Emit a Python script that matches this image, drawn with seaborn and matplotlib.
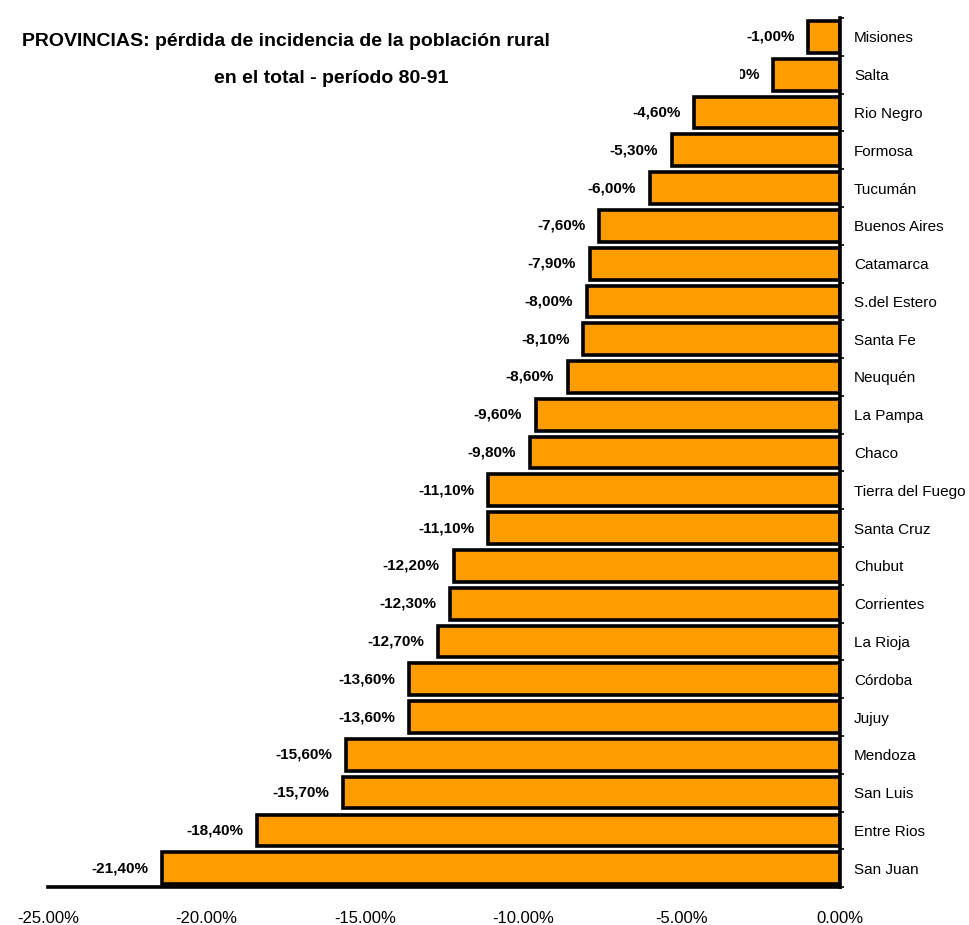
import matplotlib
matplotlib.use("Agg")
import matplotlib.pyplot as plt
from matplotlib.patches import Rectangle
import seaborn as sns
import pandas as pd
import numpy as np

provincias = ["Misiones", "Salta", "Rio Negro", "Formosa", "Tucumán", "Buenos Aires",
              "Catamarca", "S.del Estero", "Santa Fe", "Neuquén", "La Pampa", "Chaco",
              "Tierra del Fuego", "Santa Cruz", "Chubut", "Corrientes", "La Rioja",
              "Córdoba", "Jujuy", "Mendoza", "San Luis", "Entre Rios", "San Juan"]
perdida = [-1.00, -2.10, -4.60, -5.30, -6.00, -7.60, -7.90, -8.00, -8.10, -8.60,
           -9.60, -9.80, -11.10, -11.10, -12.20, -12.30, -12.70, -13.60, -13.60,
           -15.60, -15.70, -18.40, -21.40]
x_ticks = [-25, -20, -15, -10, -5, 0]
x_tick_labels = ["-25.00%", "-20.00%", "-15.00%", "-10.00%", "-5.00%", "0.00%"]

df = pd.DataFrame({"provincia": provincias, "perdida": perdida})

sns.set_theme(style="white")
plt.rcParams["font.family"] = ["Liberation Sans", "DejaVu Sans"]
plt.rcParams["text.color"] = "black"
plt.rcParams["xtick.color"] = "black"
plt.rcParams["ytick.color"] = "black"

fig = plt.figure(figsize=(9.7, 9.25), dpi=100)
ax = fig.add_axes([0.0495, 0.041, 0.8165, 0.9395])

sns.barplot(data=df, x="perdida", y="provincia", orient="h", color="#FF9C00",
            saturation=1, edgecolor="black", linewidth=2.6, width=0.84, ax=ax)

ax.set_xlim(-25, 0)
ax.set_ylim(len(provincias) - 0.5, -0.5)
ax.set_xlabel("")
ax.set_ylabel("")

# value labels to the left of each bar
labels = [f"{v:.2f}%".replace(".", ",") for v in perdida]
ax.bar_label(ax.containers[0], labels=labels, padding=10, fontsize=11,
             fontweight="bold", color="black")

# province names on the right side of the zero line
ax.yaxis.tick_right()
ax.set_yticks(range(len(provincias)))
ax.set_yticklabels(provincias, fontsize=11)
ax.tick_params(axis="y", which="major", length=0, pad=10)
ax.set_yticks(np.arange(len(provincias) + 1) - 0.5, minor=True)
ax.tick_params(axis="y", which="minor", length=3, width=1.2, color="black", direction="out")

ax.set_xticks(x_ticks)
ax.set_xticklabels(x_tick_labels, fontsize=12)
ax.tick_params(axis="x", length=3, width=1.2, color="#555555", pad=14, direction="out")

for side in ["left", "top"]:
    ax.spines[side].set_visible(False)
for side in ["right", "bottom"]:
    ax.spines[side].set_visible(True)
    ax.spines[side].set_color("black")
    ax.spines[side].set_linewidth(2.6)

# title block with its own white background
fig.patches.append(Rectangle((0.0, 0.902), 0.763, 0.098, transform=fig.transFigure,
                             facecolor="white", edgecolor="none", zorder=5))
fig.text(0.295, 0.955, "PROVINCIAS: pérdida de incidencia de la población rural",
         ha="center", va="center", fontsize=14, fontweight="bold", zorder=10)
fig.text(0.341, 0.915, "en el total - período 80-91", ha="center", va="center",
         fontsize=14, fontweight="bold", zorder=10)

fig.savefig("out.png", dpi=100, facecolor="white")
